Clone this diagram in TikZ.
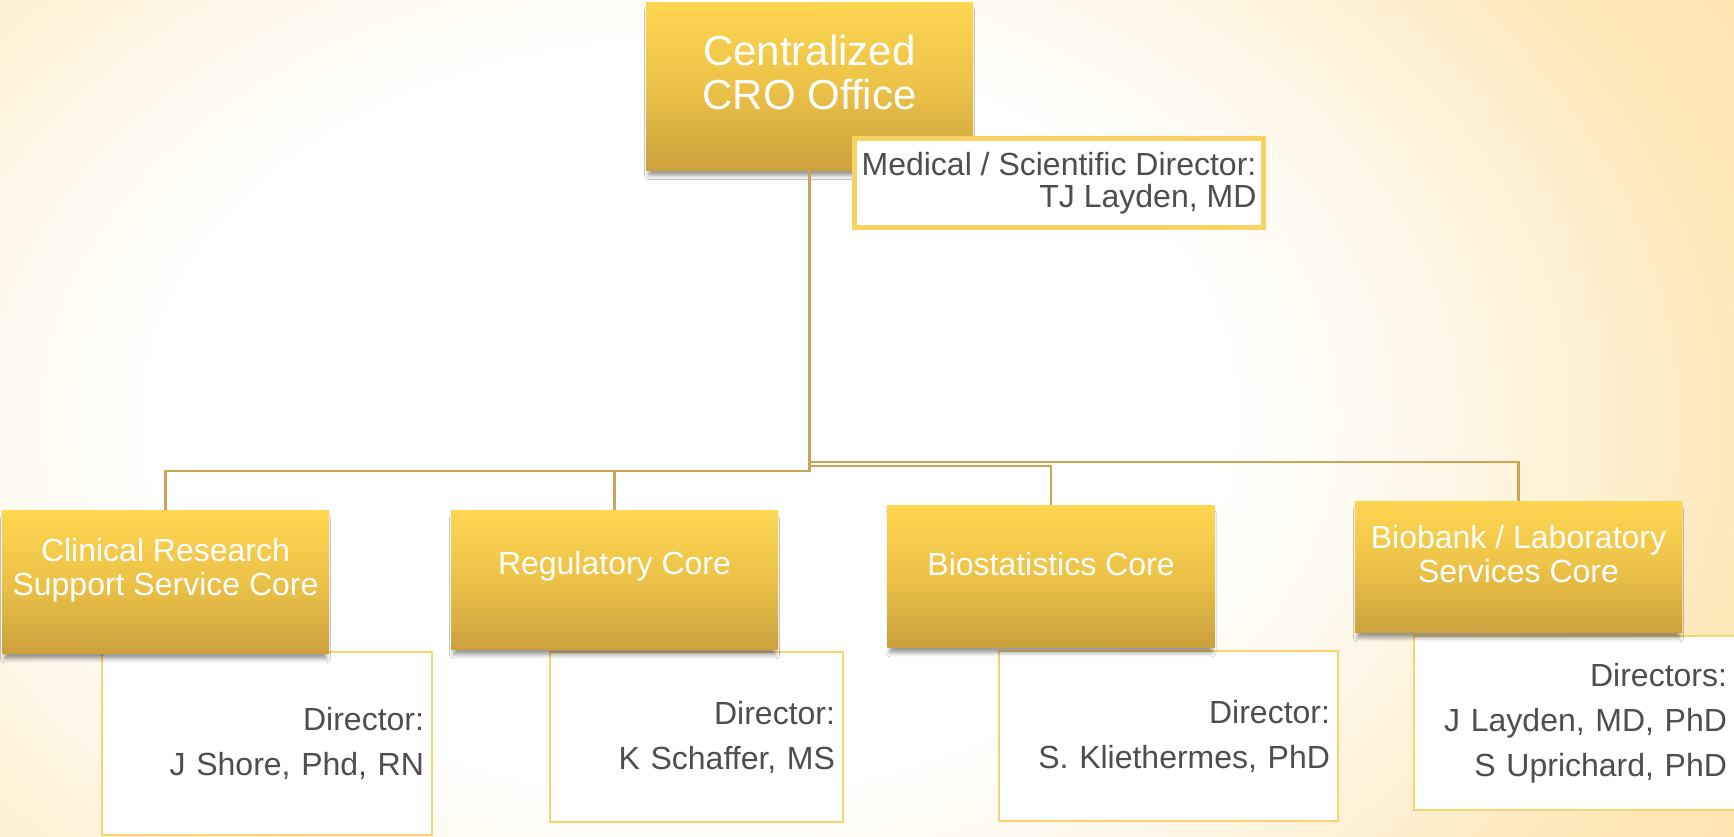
\documentclass[tikz,border=0pt]{standalone}
\usepackage{fontspec}
\setmainfont{Liberation Sans}
\usetikzlibrary{shadows.blur}

\definecolor{boxtop}{RGB}{255,214,80}
\definecolor{boxmid}{RGB}{236,194,72}
\definecolor{boxbot}{RGB}{204,161,62}
\definecolor{connc}{RGB}{200,166,86}
\definecolor{dirborder}{RGB}{250,211,110}
\definecolor{medborder}{RGB}{250,210,100}
\definecolor{txtgray}{RGB}{77,77,82}
\definecolor{bgA}{RGB}{255,251,242}
\definecolor{bgB}{RGB}{254,245,226}
\definecolor{bgC}{RGB}{253,237,202}
\definecolor{bgD}{RGB}{253,232,184}
\definecolor{bgE}{RGB}{253,230,175}

% soft cream page background, white towards the middle
% (the shaded path's bounding box spans radius 25bp)
\pgfdeclareradialshading{pagebg}{\pgfpoint{0bp}{0bp}}{%
  color(0bp)=(white);
  color(12bp)=(white);
  color(15bp)=(bgA);
  color(18bp)=(bgB);
  color(21.5bp)=(bgC);
  color(24bp)=(bgD);
  color(27.5bp)=(bgE);
  color(50bp)=(bgE)}

\begin{document}
\begin{tikzpicture}[x=1pt,y=-1pt,
  corebox/.style={rectangle, inner sep=0pt,
    top color=boxtop, bottom color=boxbot, middle color=boxmid,
    blur shadow={shadow xshift=0pt, shadow yshift=-7pt, shadow scale=0.985,
      shadow blur radius=4pt, shadow opacity=40}},
  corelabel/.style={text=white, align=center, inner sep=0pt,
    font=\fontsize{32}{34}\selectfont},
  toplabel/.style={text=white, align=center, inner sep=0pt,
    font=\fontsize{42}{44}\selectfont},
  dirbox/.style={rectangle, draw=dirborder, line width=2.5pt, fill=white,
    inner xsep=8pt, inner ysep=0pt, align=right, text=txtgray,
    font=\fontsize{32}{45}\selectfont},
  medbox/.style={rectangle, draw=medborder, line width=5pt, fill=white,
    inner sep=0pt, align=right, text=txtgray,
    font=\fontsize{32}{32}\selectfont},
  conn/.style={draw=connc, line width=2.5pt}]

% page
\begin{scope}
  \clip (0,0) rectangle (1734,836);
  \shade[shading=pagebg] (-420,-350) rectangle (1800,1186);
\end{scope}
\useasboundingbox (0,0) rectangle (1734,836);

% director boxes (under the core boxes)
\node[dirbox, minimum width=330pt, minimum height=183pt, text width=314pt]
  (clinD) at (267,743.5) {Director:\\J Shore, Phd, RN};
\node[dirbox, minimum width=293pt, minimum height=170pt, text width=277pt]
  (regD) at (696.5,737) {Director:\\K Schaffer, MS};
\node[dirbox, minimum width=339pt, minimum height=170pt, text width=323pt]
  (bioD) at (1168.5,736) {Director:\\S. Kliethermes, PhD};
\node[dirbox, minimum width=321pt, minimum height=174pt, text width=305pt]
  (bbD) at (1574.5,723) {Directors:\\J Layden, MD, PhD\\S Uprichard, PhD};

% bus junctions on the trunk
\coordinate (busL) at (809.5,471);
\coordinate (busB) at (809.5,466);
\coordinate (busR) at (809.5,462);

% core boxes
\node[corebox, minimum width=327pt, minimum height=168pt] (top) at (809.5,86) {};
\node[corebox, minimum width=327pt, minimum height=143pt] (clin) at (165.5,581.5) {};
\node[corebox, minimum width=327pt, minimum height=139pt] (reg) at (614.5,579.5) {};
\node[corebox, minimum width=327pt, minimum height=142pt] (bio) at (1051,576) {};
\node[corebox, minimum width=327pt, minimum height=131pt] (bb) at (1518.5,566.5) {};

% connectors
\draw[conn] (top.south) -- (busL) -| (clin.north);
\draw[conn] (busL) -| (reg.north);
\draw[conn] (busB) -| (bio.north);
\draw[conn] (busR) -| (bb.north);

% box texts
\node[toplabel] (topT) at ([yshift=14pt]top.center) {Centralized\\CRO Office};
\node[corelabel] (clinT) at ([yshift=11pt]clin.center) {Clinical Research\\Support Service Core};
\node[corelabel] (regT) at ([yshift=13pt]reg.center) {Regulatory Core};
\node[corelabel] (bioT) at ([yshift=12pt]bio.center) {Biostatistics Core};
\node[corelabel] (bbT) at ([yshift=12pt]bb.center) {Biobank / Laboratory\\Services Core};

% assistant box beside the office
\node[medbox, minimum width=409pt, minimum height=89pt]
  (med) at (1059,183) {Medical / Scientific Director:\\TJ Layden, MD};
\end{tikzpicture}
\end{document}
